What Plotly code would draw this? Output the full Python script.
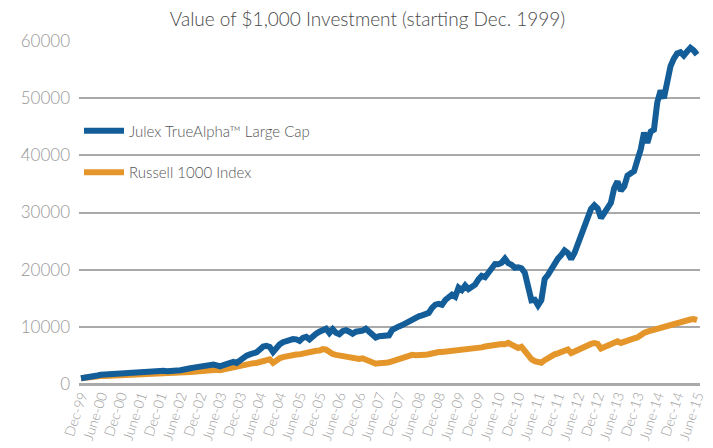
import plotly.graph_objects as go

# Monthly values, Dec-99 .. June-15 (187 points)
julex = [
    1000, 1150, 1250, 1350, 1510, 1480, 1600, 1650, 1740, 1780,
    1820, 1800, 1880, 1920, 1950, 1900, 1990, 2020, 2040, 2100,
    2150, 2220, 2260, 2340, 2380, 2320, 2250, 2220, 2300, 2380,
    2420, 2450, 2600, 2750, 2870, 2980, 3080, 3160, 3250, 3330,
    3400, 3250, 3100, 3300, 3520, 3700, 3870, 3700, 4080, 4760,
    4970, 5190, 5380, 5540, 6040, 6540, 6660, 6480, 5590, 6480,
    6930, 7320, 7550, 7730, 7850, 7810, 7550, 8080, 8260, 7810,
    8490, 8790, 9150, 9410, 9680, 8920, 9590, 8970, 8700, 9240,
    9410, 9150, 8790, 9150, 9240, 9320, 9680, 9150, 8580, 8120,
    8350, 8470, 8350, 8520, 9500, 9890, 10070, 10300, 10640, 11010,
    11460, 11720, 11850, 12020, 12200, 12430, 13320, 13890, 14030, 13850,
    14700, 15270, 15630, 15270, 16870, 16430, 17230, 16610, 16960, 17370,
    18290, 18910, 18680, 19540, 20250, 20990, 20960, 21220, 21930, 21130,
    20870, 20340, 20420, 20250, 19450, 16960, 14650, 14740, 13760, 14650,
    18380, 19100, 20160, 21130, 21930, 22560, 23350, 22910, 21840, 22910,
    24600, 25840, 27350, 29570, 30640, 31260, 30720, 29040, 30100, 30990,
    31700, 34280, 35430, 33830, 34540, 36460, 36890, 37240, 39160, 41030,
    43960, 42180, 44130, 44490, 49280, 51330, 49990, 53550, 55590, 56920,
    57810, 58040, 57450, 58160, 58790, 58340, 57630,
]

russell = [
    1000, 1100, 1180, 1250, 1300, 1320, 1380, 1400, 1420, 1450,
    1480, 1470, 1500, 1510, 1540, 1500, 1560, 1590, 1620, 1650,
    1680, 1700, 1720, 1740, 1770, 1740, 1700, 1720, 1780, 1830,
    1880, 1930, 2000, 2080, 2150, 2230, 2300, 2380, 2450, 2520,
    2600, 2500, 2420, 2550, 2700, 2850, 3050, 3000, 3150, 3450,
    3500, 3580, 3650, 3680, 3900, 4100, 4230, 4300, 3700, 4250,
    4500, 4700, 4850, 5000, 5150, 5150, 5180, 5350, 5550, 5500,
    5700, 5800, 5850, 6100, 6000, 5500, 5250, 5100, 5000, 4900,
    4650, 4500, 4400, 4350, 4400, 4500, 4200, 3900, 3700, 3550,
    3650, 3800, 3700, 3800, 4000, 4150, 4300, 4450, 4600, 4900,
    5100, 5050, 5000, 5050, 5100, 5200, 5400, 5550, 5600, 5600,
    5650, 5700, 5700, 5750, 5800, 5900, 6000, 6050, 6100, 6200,
    6250, 6400, 6550, 6650, 6800, 6900, 7100, 7000, 6950, 7200,
    6900, 6600, 6300, 6500, 5680, 4940, 4350, 4000, 3770, 3730,
    4170, 4620, 4880, 5190, 5360, 5590, 5860, 6040, 5420, 5680,
    5950, 6300, 6660, 6930, 7010, 7140, 7010, 6220, 6480, 6570,
    6930, 7280, 7460, 7190, 7460, 7600, 7730, 7990, 8130, 8610,
    8920, 9150, 9320, 9590, 9800, 9950, 10030, 10300, 10480, 10660,
    10830, 11010, 10920, 11140, 11280, 11370, 11190,
]

tick_labels = [
    "Dec-99", "June-00", "Dec-00", "June-01", "Dec-01", "June-02", "Dec-02",
    "June-03", "Dec-03", "June-04", "Dec-04", "June-05", "Dec-05", "June-06",
    "Dec-06", "June-07", "Dec-07", "June-08", "Dec-08", "June-09", "Dec-09",
    "June-10", "Dec-10", "June-11", "Dec-11", "June-12", "Dec-12", "June-13",
    "Dec-13", "June-14", "Dec-14", "June-15",
]

months = list(range(len(julex)))
tick_positions = months[::6]

BLUE = "#135d99"
ORANGE = "#e5962b"
GRID = "#a9a9a9"
FONT = "Lato, 'Open Sans', sans-serif"

fig = go.Figure()
fig.add_trace(go.Scatter(
    x=months, y=russell, mode="lines", name="Russell 1000 Index",
    line=dict(color=ORANGE, width=6), legendgroup="r", legendrank=2,
))
fig.add_trace(go.Scatter(
    x=months, y=julex, mode="lines", name="Julex TrueAlpha™ Large Cap",
    line=dict(color=BLUE, width=6), legendgroup="j", legendrank=1,
))

# the page body adds an 8px margin, so the figure is sized to fit inside it
fig.update_layout(
    width=705, height=440,
    margin=dict(l=71, r=6, t=33, b=62),
    paper_bgcolor="white", plot_bgcolor="white",
    font=dict(family=FONT, color="#999999"),
    title=dict(
        text="Value of $1,000 Investment (starting Dec. 1999)",
        x=0.51, xanchor="center", xref="container",
        y=0.975, yanchor="middle",
        font=dict(family=FONT, size=19, color="#4a4a4a", weight=300),
    ),
    showlegend=True,
    legend=dict(
        x=0.0, y=0.786, xanchor="left", yanchor="top",
        bgcolor="rgba(0,0,0,0)", tracegroupgap=19,
        font=dict(family=FONT, size=15, color="#555555", weight=300),
        itemwidth=40,
    ),
    xaxis=dict(
        range=[-0.6, 186.9],
        tickmode="array", tickvals=tick_positions, ticktext=tick_labels,
        tickangle=-72, showgrid=False, zeroline=False, showline=False,
        ticks="", ticklabeloverflow="allow",
        tickfont=dict(family=FONT, size=14, color="#a0a0a0", weight=300),
    ),
    yaxis=dict(
        range=[0, 60000], tickmode="array",
        tickvals=[0, 10000, 20000, 30000, 40000, 50000, 60000],
        ticktext=["0", "10000", "20000", "30000", "40000", "50000", "60000"],
        showgrid=True, gridcolor=GRID, gridwidth=2,
        zeroline=True, zerolinecolor=GRID, zerolinewidth=3,
        showline=False, ticks="", ticklabelstandoff=8,
        tickfont=dict(family=FONT, size=17, color="#969696", weight=300),
    ),
)

fig.write_html("out.html")
